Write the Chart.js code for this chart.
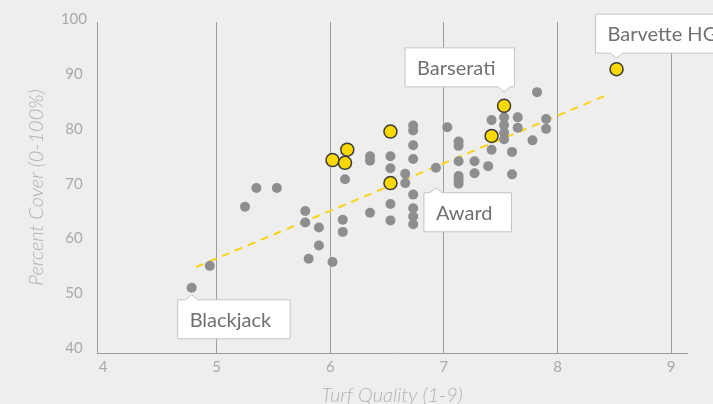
<!DOCTYPE html>
<html>
<head>
<meta charset="utf-8">
<script src="https://cdn.jsdelivr.net/npm/chart.js@4.4.0/dist/chart.umd.min.js"></script>
<style>
  html, body { margin: 0; padding: 0; background: #eeeeee; }
  #wrap { width: 713px; height: 404px; }
</style>
</head>
<body>
<div id="wrap"><canvas id="chart" width="713" height="404"></canvas></div>
<script>
  // cultivars (grey dots)
  const qualityX = [4.78, 4.94, 5.25, 5.35, 5.53, 5.78, 5.78, 5.90, 5.90, 5.81, 6.02, 6.13, 6.11, 6.11,
    6.35, 6.35, 6.35, 6.53, 6.53, 6.53, 6.53, 6.66, 6.66, 6.73, 6.73, 6.73, 6.73, 6.73, 6.73, 6.73, 6.73,
    6.93, 7.03, 7.13, 7.13, 7.13, 7.13, 7.13, 7.13, 7.27, 7.27, 7.39, 7.42, 7.42, 7.53, 7.53, 7.53, 7.53,
    7.65, 7.65, 7.60, 7.60, 7.82, 7.90, 7.90, 7.78];
  const coverY = [51.0, 55.0, 65.8, 69.2, 69.2, 65.0, 62.9, 62.0, 58.7, 56.3, 55.7, 70.8, 63.4, 61.2,
    75.0, 74.2, 64.7, 75.0, 72.8, 66.3, 63.3, 71.8, 70.1, 80.6, 79.7, 77.0, 74.5, 68.0, 65.5, 64.0, 62.6,
    72.9, 80.3, 77.7, 76.9, 74.1, 71.4, 70.7, 70.0, 74.1, 71.9, 73.2, 81.6, 76.2, 82.1, 80.7, 79.3, 78.1,
    82.1, 80.2, 75.8, 71.7, 86.7, 81.8, 80.0, 77.9];

  // highlighted cultivars (yellow)
  const hiX = [6.02, 6.15, 6.13, 6.53, 6.53, 7.42, 7.53, 8.52];
  const hiY = [74.3, 76.2, 73.8, 79.5, 70.1, 78.7, 84.2, 90.9];

  // trend line ends
  const trendX = [4.82, 8.46];
  const trendY = [54.8, 86.4];

  const xTicks = [4, 5, 6, 7, 8, 9];
  const yTicks = [40, 50, 60, 70, 80, 90, 100];

  // labelled cultivars
  const calloutNames = ['Blackjack', 'Award', 'Barserati', 'Barvette HG'];
  const calloutX = [4.78, 6.93, 7.53, 8.52];
  const calloutY = [51.0, 72.9, 84.2, 90.9];
  const calloutSide = ['below', 'below', 'above', 'above'];
  const calloutShift = [-14, -12, -99, -21];
  const calloutGap = [7, 20, 14, 11];

  const toPts = (xs, ys) => xs.map((x, i) => ({ x: x, y: ys[i] }));

  const callouts = {
    id: 'callouts',
    afterDraw(chart) {
      const ctx = chart.ctx;
      const sx = chart.scales.x, sy = chart.scales.y;
      ctx.save();
      ctx.font = '20px Lato';
      calloutNames.forEach((name, i) => {
        const px = sx.getPixelForValue(calloutX[i]);
        const py = sy.getPixelForValue(calloutY[i]);
        const w = ctx.measureText(name).width + 31;
        const h = 39;
        const left = px + calloutShift[i];
        const below = calloutSide[i] === 'below';
        const tipY = below ? py + calloutGap[i] : py - calloutGap[i];
        const top = below ? tipY + 5 : tipY - 5 - h;
        const baseY = below ? top : top + h;
        ctx.beginPath();
        ctx.moveTo(left, top);
        if (below) {
          ctx.lineTo(px - 6, top); ctx.lineTo(px, tipY); ctx.lineTo(px + 6, top);
        }
        ctx.lineTo(left + w, top);
        ctx.lineTo(left + w, top + h);
        if (!below) {
          ctx.lineTo(px + 6, baseY); ctx.lineTo(px, tipY); ctx.lineTo(px - 6, baseY);
        }
        ctx.lineTo(left, top + h);
        ctx.closePath();
        ctx.fillStyle = '#ffffff';
        ctx.fill();
        ctx.strokeStyle = '#c4c4c4';
        ctx.lineWidth = 1;
        ctx.stroke();
        ctx.fillStyle = '#707070';
        ctx.textBaseline = 'alphabetic';
        ctx.fillText(name, left + 12, top + 27);
      });
      ctx.restore();
    }
  };

  new Chart(document.getElementById('chart'), {
    type: 'scatter',
    data: {
      datasets: [
        {
          type: 'line',
          data: toPts(trendX, trendY),
          borderColor: '#f7d417',
          borderWidth: 2,
          borderDash: [8, 6],
          pointRadius: 0,
          order: 3
        },
        {
          data: toPts(qualityX, coverY),
          backgroundColor: '#8e8e91',
          borderWidth: 0,
          pointRadius: 5,
          order: 2
        },
        {
          data: toPts(hiX, hiY),
          backgroundColor: '#fad800',
          borderColor: '#3a3a3a',
          borderWidth: 1.5,
          pointRadius: 6.5,
          order: 1
        }
      ]
    },
    options: {
      responsive: false,
      animation: false,
      layout: { padding: { left: 0, right: 26, top: 22, bottom: 0 } },
      plugins: { legend: { display: false }, tooltip: { enabled: false } },
      scales: {
        x: {
          type: 'linear',
          min: 3.947,
          max: 9.14,
          afterBuildTicks: s => { s.ticks = xTicks.map(v => ({ value: v })); },
          afterFit: s => { s.height = 51; },
          grid: {
            color: c => (c.tick && c.tick.value === 4 ? 'transparent' : '#9c9c9c'),
            lineWidth: 1,
            drawTicks: false
          },
          border: { display: true, color: '#9c9c9c', width: 1 },
          ticks: { color: '#a9a9a9', font: { family: 'Lato', size: 15 }, padding: 5 },
          title: {
            display: true,
            text: 'Turf Quality (1-9)',
            color: '#b2b2b2',
            font: { family: 'Lato', size: 20, style: 'italic', weight: 300 },
            padding: { top: 0, bottom: -4 }
          }
        },
        y: {
          min: 39.1,
          max: 99.5,
          afterBuildTicks: s => { s.ticks = yTicks.map(v => ({ value: v })); },
          afterFit: s => { s.width = 97; },
          grid: { color: 'transparent', drawTicks: false },
          border: { display: true, color: '#9c9c9c', width: 1 },
          ticks: { color: '#a9a9a9', font: { family: 'Lato', size: 15 }, padding: 10, crossAlign: 'center' },
          title: {
            display: true,
            text: 'Percent Cover (0-100%)',
            color: '#b2b2b2',
            font: { family: 'Lato', size: 20, style: 'italic', weight: 300 },
            padding: { top: 25, bottom: 0 }
          }
        }
      }
    },
    plugins: [callouts]
  });
</script>
</body>
</html>
